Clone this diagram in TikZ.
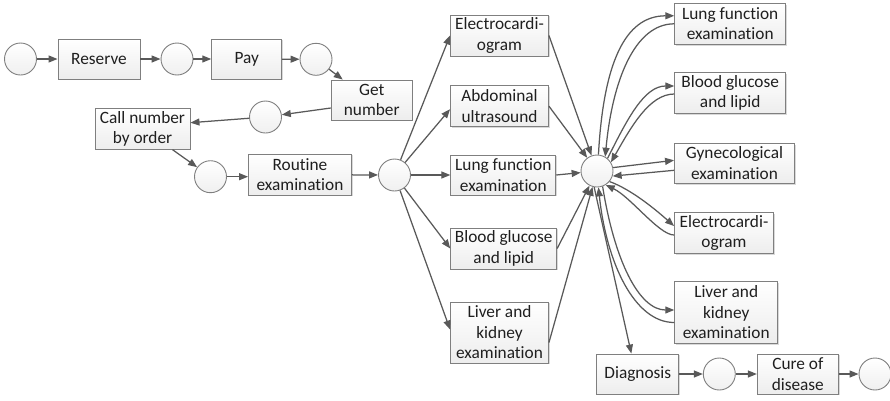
\documentclass[tikz,border=0pt]{standalone}
\usepackage{fontspec}
\setmainfont{Carlito}[Ligatures=NoCommon]
\usetikzlibrary{arrows.meta,calc,shadows}
\definecolor{linec}{HTML}{595959}
\definecolor{boxline}{HTML}{7F7F7F}
\definecolor{txt}{HTML}{1F1F1F}
\begin{document}
\begin{tikzpicture}[x=1pt,y=-1pt,
 box/.style={draw=boxline, line width=0.9pt, top color=white, bottom color=gray!14,
   align=center, font=\fontsize{17.3}{20.5}\selectfont, text=txt, inner sep=0pt,
   drop shadow={shadow xshift=1.2pt,shadow yshift=-1.2pt,opacity=0.3,fill=gray}},
 st/.style={circle, draw=boxline, line width=0.9pt, top color=white, bottom color=gray!12,
   minimum size=32pt, inner sep=0pt},
 ar/.style={draw=linec, line width=1.25pt, -{Triangle[length=9pt,width=7pt]}},
]
\useasboundingbox (0,0) rectangle (890,400);
% states
\node[st] (c1) at (20.5,59) {};
\node[st] (c2) at (177,59) {};
\node[st] (c3) at (316,59.3) {};
\node[st] (c4) at (265.5,117) {};
\node[st] (c5) at (210.5,176.7) {};
\node[st] (c6) at (394.5,175) {};
\node[st] (c7) at (597,171) {};
\node[st] (c8) at (719.3,374) {};
\node[st] (c9) at (875,374) {};
% boxes
\node[box, minimum width=82pt, minimum height=40pt] (reserve) at (99,59) {Reserve};
\node[box, minimum width=70pt, minimum height=40pt] (pay) at (246.7,59) {Pay};
\node[box, minimum width=81pt, minimum height=40pt] (getnum) at (371.7,100) {Get\\number};
\node[box, minimum width=95pt, minimum height=41pt] (callnum) at (142.5,128.7) {Call number\\by order};
\node[box, minimum width=103pt, minimum height=41pt] (routine) at (300,174.7) {Routine\\examination};
\node[box, minimum width=98pt, minimum height=41pt] (mecg) at (499.5,35.5) {Electrocardi-\\ogram};
\node[box, minimum width=98pt, minimum height=41pt] (mabd) at (499.5,106.2) {Abdominal\\ultrasound};
\node[box, minimum width=105pt, minimum height=40pt] (mlung) at (503.3,175) {Lung function\\examination};
\node[box, minimum width=106pt, minimum height=41pt] (mblood) at (503.7,248.5) {Blood glucose\\and lipid};
\node[box, minimum width=98pt, minimum height=61pt] (mliver) at (499.5,332.5) {Liver and\\kidney\\examination};
\node[box, minimum width=111pt, minimum height=41pt] (rlung) at (730.2,23.8) {Lung function\\examination};
\node[box, minimum width=111pt, minimum height=41pt] (rblood) at (730.2,93) {Blood glucose\\and lipid};
\node[box, minimum width=120pt, minimum height=40pt] (rgyn) at (734.5,163.3) {Gynecological\\examination};
\node[box, minimum width=99pt, minimum height=41pt] (recg) at (724,233) {Electrocardi-\\ogram};
\node[box, minimum width=103pt, minimum height=62pt] (rliver) at (726.2,312.5) {Liver and\\kidney\\examination};
\node[box, minimum width=82pt, minimum height=40pt] (diag) at (637.8,374) {Diagnosis};
\node[box, minimum width=81pt, minimum height=40pt] (cure) at (797.8,374) {Cure of\\disease};
% connectors
\draw[ar] (c1) -- (reserve);
\draw[ar] (reserve) -- (c2);
\draw[ar] (c2) -- (pay);
\draw[ar] (pay) -- (c3);
\draw[ar] (c3) -- ($(getnum.north west)+(12,0)$);
\draw[ar] ($(getnum.west)+(0,8)$) -- (c4);
\draw[ar] (c4) -- ($(callnum.east)+(0,-6)$);
\draw[ar] ($(callnum.south)+(30,0)$) -- (c5);
\draw[ar] (c5) -- (routine.west |- c5);
\draw[ar] (routine) -- (c6);
\draw[ar] (c6) -- (mecg.west);
\draw[ar] (c6) -- ($(mabd.west)+(0,3)$);
\draw[ar] (c6) -- (mlung.west);
\draw[ar] (c6) -- (mblood.west);
\draw[ar] (c6) -- ($(mliver.west)+(0,-3)$);
\draw[ar] (mecg.east) -- (c7);
\draw[ar] (mabd.east) -- (c7);
\draw[ar] (mlung.east) -- (c7);
\draw[ar] (mblood.east) -- (c7);
\draw[ar] ($(mliver.east)+(0,10)$) -- (c7);
\draw[ar] (c7.-100) -- ($(diag.north west)+(35,0)$);
\draw[ar] (diag) -- (c8);
\draw[ar] (c8) -- (cure);
\draw[ar] (cure) -- (c9);
% curved pairs
\draw[ar] (c7.85) .. controls +(5,-90) and +(-50,0) .. ($(rlung.west)+(0,-8)$);
\draw[ar] (rlung.west) .. controls +(-40,0) and +(7,-75) .. (c7.60);
\draw[ar] (c7.50) .. controls +(20,-40) and +(-30,0) .. ($(rblood.west)+(0,-7)$);
\draw[ar] ($(rblood.west)+(0,1)$) .. controls +(-25,0) and +(20,-35) .. (c7.32);
\draw[ar] (c7.12) -- ($(rgyn.west)+(0,-3)$);
\draw[ar] ($(rgyn.west)+(0,7)$) -- (c7.-18);
\draw[ar] (c7.-40) .. controls +(22,8) and +(-18,-16) .. ($(recg.west)+(0,-7)$);
\draw[ar] ($(recg.west)+(0,2)$) .. controls +(-15,0) and +(25,12) .. (c7.-58);
\draw[ar] (c7.-70) .. controls +(12,75) and +(-35,0) .. ($(rliver.west)+(0,-2.5)$);
\draw[ar] ($(rliver.west)+(0,10)$) .. controls +(-40,0) and +(8,75) .. (c7.-85);
\end{tikzpicture}
\end{document}
